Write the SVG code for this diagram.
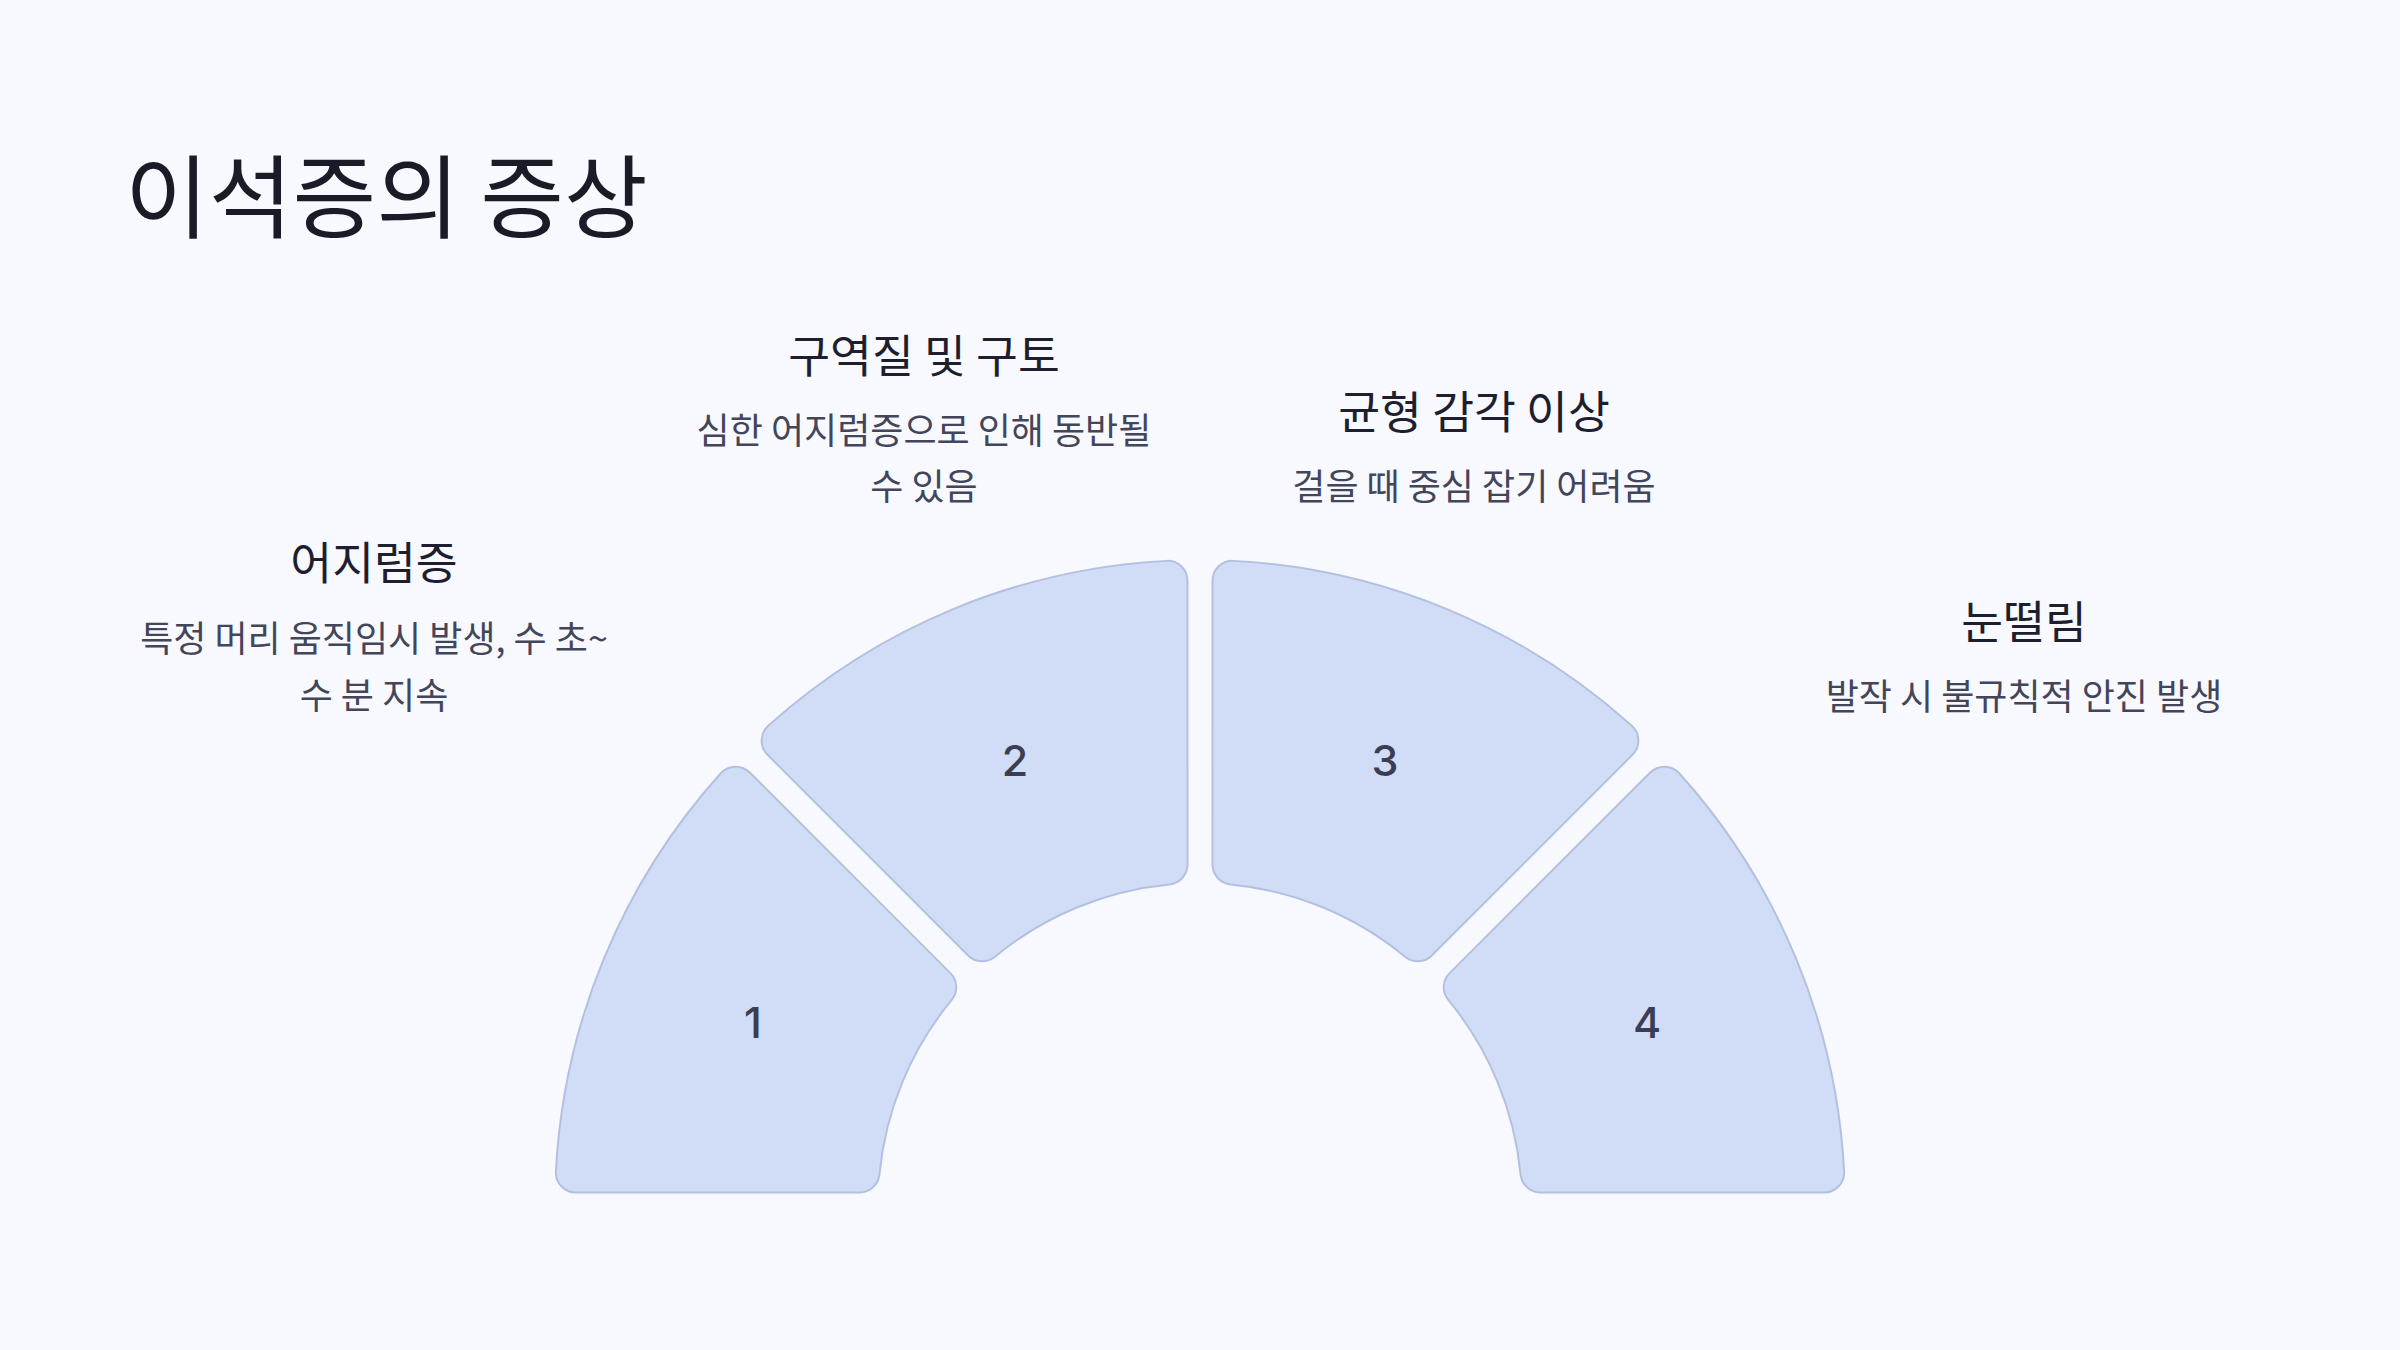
<svg xmlns="http://www.w3.org/2000/svg" width="2400" height="1350" viewBox="0 0 2400 1350">
  <style>
    .seg { fill: #D1DDF7; stroke: #B3C1E0; stroke-width: 2; }
    .num { font-family: Inter, "Open Sans", "Liberation Sans", sans-serif; font-size: 43px; font-weight: 500; fill: #3B3D52; text-anchor: middle; }
    .title { font-family: "Noto Sans CJK KR", "Noto Sans", sans-serif; font-size: 91px; font-weight: 400; fill: #1B1B27; }
    .head { font-family: "Noto Sans CJK KR", "Noto Sans", sans-serif; font-size: 45.5px; font-weight: 400; fill: #1E1F2E; text-anchor: middle; }
    .desc { font-family: "Noto Sans CJK KR", "Noto Sans", sans-serif; font-size: 36px; font-weight: 400; fill: #43455A; text-anchor: middle; }
  </style>
  <defs>
    <path id="sector" d="M 607.93 215.51 A 645 645 0 0 0 607.93 -215.51 A 20 20 0 0 0 581.43 -227.30 L 319.32 -118.74 A 20 20 0 0 0 307.85 -94.40 A 322 322 0 0 1 307.85 94.40 A 20 20 0 0 0 319.32 118.74 L 581.43 227.30 A 20 20 0 0 0 607.93 215.51 Z"/>
  </defs>
  <rect x="0" y="0" width="2400" height="1350" fill="#F8F9FE"/>
  <text class="title" x="125" y="231">이석증의 증상</text>
  <g id="connectors"/>
  <g id="node-1">
    <use href="#sector" class="seg" transform="translate(1200,1205) rotate(-157.5)"/>
    <text class="num" x="753" y="1038">1</text>
    <text class="head" x="374" y="580">어지럼증</text>
    <text class="desc" x="374" y="652">특정 머리 움직임시 발생, 수 초~</text>
    <text class="desc" x="374" y="709">수 분 지속</text>
  </g>
  <g id="node-2">
    <use href="#sector" class="seg" transform="translate(1200,1205) rotate(-112.5)"/>
    <text class="num" x="1015" y="776">2</text>
    <text class="head" x="924" y="373">구역질 및 구토</text>
    <text class="desc" x="924" y="444">심한 어지럼증으로 인해 동반될</text>
    <text class="desc" x="924" y="500">수 있음</text>
  </g>
  <g id="node-3">
    <use href="#sector" class="seg" transform="translate(1200,1205) rotate(-67.5)"/>
    <text class="num" x="1385" y="776">3</text>
    <text class="head" x="1474" y="429">균형 감각 이상</text>
    <text class="desc" x="1474" y="500">걸을 때 중심 잡기 어려움</text>
  </g>
  <g id="node-4">
    <use href="#sector" class="seg" transform="translate(1200,1205) rotate(-22.5)"/>
    <text class="num" x="1647" y="1038">4</text>
    <text class="head" x="2024" y="639">눈떨림</text>
    <text class="desc" x="2024" y="710">발작 시 불규칙적 안진 발생</text>
  </g>
</svg>
